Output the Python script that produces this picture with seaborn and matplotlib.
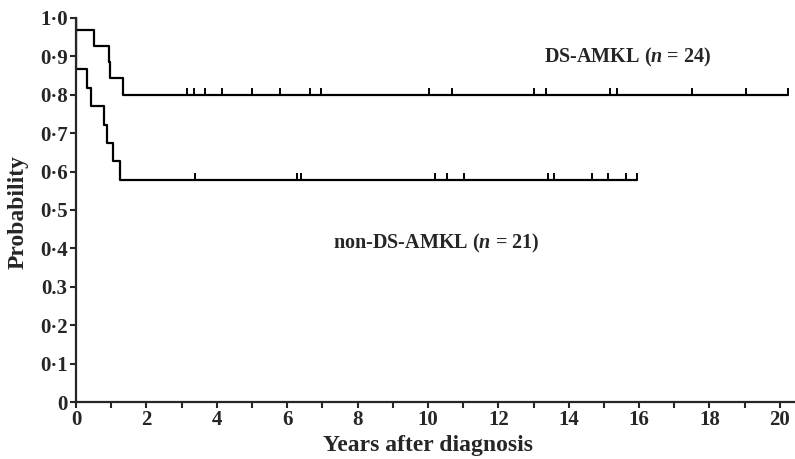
import numpy as np
import pandas as pd
import seaborn as sns
from matplotlib import pyplot as plt
from matplotlib.ticker import MultipleLocator, FixedLocator

# Kaplan-Meier steps
ds_times = [0, 0, 0.51, 0.93, 0.97, 1.33, 20.23]
ds_surv = [1.0, 0.968, 0.928, 0.885, 0.843, 0.80, 0.80]
non_times = [0, 0, 0.30, 0.42, 0.80, 0.87, 1.06, 1.25, 15.94]
non_surv = [1.0, 0.866, 0.818, 0.770, 0.722, 0.675, 0.627, 0.577, 0.577]

# censored observations
ds_censor = [3.15, 3.35, 3.66, 4.15, 5.0, 5.80, 6.65, 6.96, 10.03, 10.68,
             13.01, 13.35, 15.17, 15.37, 17.5, 19.03, 20.23]
non_censor = [3.38, 6.28, 6.39, 10.2, 10.54, 11.02, 13.41, 13.58, 14.66,
              15.11, 15.63, 15.94]

ytick_vals = [0, 0.1, 0.2, 0.3, 0.4, 0.5, 0.6, 0.7, 0.8, 0.9, 1.0]
ytick_labels = ['0', '0·1', '0·2', '0.3', '0·4', '0·5', '0·6', '0·7', '0·8', '0·9', '1·0']

sns.set_style('ticks')
plt.rcParams['font.family'] = ['Liberation Serif', 'DejaVu Serif']
plt.rcParams['font.weight'] = 'bold'
plt.rcParams['mathtext.fontset'] = 'custom'
plt.rcParams['mathtext.it'] = 'Liberation Serif:italic:bold'
plt.rcParams['mathtext.rm'] = 'Liberation Serif:bold'

fig = plt.figure(figsize=(7.95, 4.59), dpi=100)
ax = fig.add_axes([0.0956, 0.124, 0.9044, 0.837])

df = pd.concat([
    pd.DataFrame({'t': ds_times, 's': ds_surv, 'grp': 'DS'}),
    pd.DataFrame({'t': non_times, 's': non_surv, 'grp': 'non-DS'}),
])
sns.lineplot(data=df, x='t', y='s', units='grp', estimator=None, sort=False,
             drawstyle='steps-post', color='black', linewidth=1.6, ax=ax,
             legend=False)

ax.plot(ds_censor, [ds_surv[-1]] * len(ds_censor), linestyle='none',
        marker=2, markersize=5, markeredgewidth=1.4, color='black', clip_on=False)
ax.plot(non_censor, [non_surv[-1]] * len(non_censor), linestyle='none',
        marker=2, markersize=5, markeredgewidth=1.4, color='black', clip_on=False)

ax.text(13.3, 0.898, r'DS-AMKL ($n$ = 24)', fontsize=14.5, fontweight='bold',
        va='center', ha='left')
ax.text(7.30, 0.414, r'non-DS-AMKL ($n$ = 21)', fontsize=14.5, fontweight='bold',
        va='center', ha='left')

ax.set_xlim(0, 20.43)
ax.set_ylim(0, 1.0)
ax.xaxis.set_major_locator(MultipleLocator(2))
ax.xaxis.set_minor_locator(MultipleLocator(1))
ax.yaxis.set_major_locator(FixedLocator(ytick_vals))
ax.set_yticklabels(ytick_labels)
ax.tick_params(axis='both', which='major', direction='out', length=4, width=1.5,
               labelsize=15, pad=2)
ax.tick_params(axis='x', which='minor', direction='out', length=4, width=1.5)
for lab in ax.get_xticklabels() + ax.get_yticklabels():
    lab.set_fontweight('bold')

sns.despine(ax=ax)
ax.spines['left'].set_linewidth(1.6)
ax.spines['bottom'].set_linewidth(1.6)

ax.set_xlabel('Years after diagnosis', fontsize=17, fontweight='bold')
ax.set_ylabel('Probability', fontsize=17, fontweight='bold')
ax.xaxis.set_label_coords(0.49, -0.085)
ax.yaxis.set_label_coords(-0.066, 0.495)

fig.savefig('out.png', dpi=100)
